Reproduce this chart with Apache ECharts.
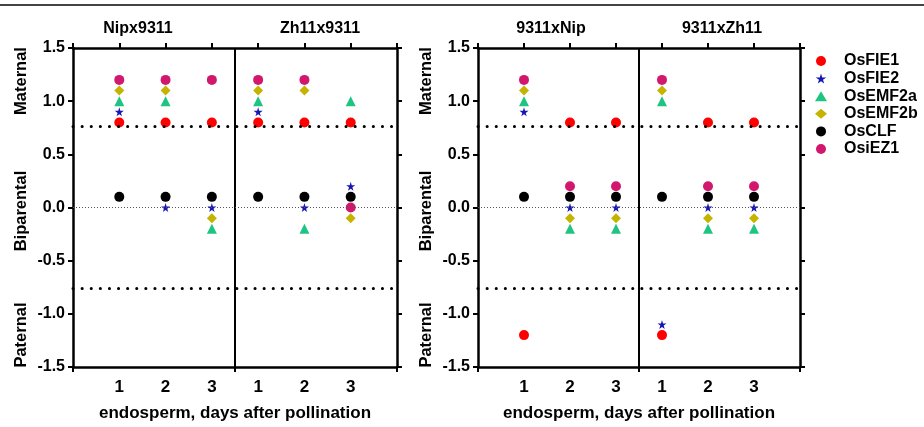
<!DOCTYPE html>
<html>
<head>
<meta charset="utf-8">
<script src="https://cdn.jsdelivr.net/npm/echarts@6/dist/echarts.min.js"></script>
<style>
html,body{margin:0;padding:0;background:#fff;}
#chart{width:924px;height:427px;}
</style>
</head>
<body>
<div id="chart"></div>
<script>
// crosses, in panel order
const crosses = ['Nipx9311', 'Zh11x9311', '9311xNip', '9311xZh11'];
const days = [1, 2, 3];
const yTicks = [-1.5, -1.0, -0.5, 0.0, 0.5, 1.0, 1.5];
const genes = ['OsFIE1', 'OsFIE2', 'OsEMF2a', 'OsEMF2b', 'OsCLF', 'OsiEZ1'];
// values per cross (Nipx9311, Zh11x9311, 9311xNip, 9311xZh11), each by day 1..3
const OsFIE1  = [[0.8, 0.8, 0.8], [0.8, 0.8, 0.8], [-1.2, 0.8, 0.8], [-1.2, 0.8, 0.8]];
const OsFIE2  = [[0.9, 0.0, 0.0], [0.9, 0.0, 0.2], [0.9, 0.0, 0.0], [-1.1, 0.0, 0.0]];
const OsEMF2a = [[1.0, 1.0, -0.2], [1.0, -0.2, 1.0], [1.0, -0.2, -0.2], [1.0, -0.2, -0.2]];
const OsEMF2b = [[1.1, 1.1, -0.1], [1.1, 1.1, -0.1], [1.1, -0.1, -0.1], [1.1, -0.1, -0.1]];
const OsCLF   = [[0.1, 0.1, 0.1], [0.1, 0.1, 0.1], [0.1, 0.1, 0.1], [0.1, 0.1, 0.1]];
const OsiEZ1  = [[1.2, 1.2, 1.2], [1.2, 1.2, 0.0], [1.2, 0.2, 0.2], [1.2, 0.2, 0.2]];
const thresholds = [0.76, -0.76];

const geneValues = [OsFIE1, OsFIE2, OsEMF2a, OsEMF2b, OsCLF, OsiEZ1];
const colors = ['#ff0000', '#1616b4', '#1ec482', '#c4b400', '#000000', '#d2186e'];
const star = 'path://M50,0 L61,35 L98,35 L68,57 L79,91 L50,70 L21,91 L32,57 L2,35 L39,35 Z';
const symbols = ['circle', star, 'triangle', 'diamond', 'circle', 'circle'];
const sizes = [10, 9, 10, 10, 10, 10];

const FONT = '"Liberation Sans", Arial, sans-serif';
const chart = echarts.init(document.getElementById('chart'));

const grids = [
  {left: 73, top: 48, width: 324, height: 325},
  {left: 478, top: 48, width: 322, height: 325}
];

const xAxes = [], yAxes = [];
grids.forEach((g, gi) => {
  xAxes.push({
    type: 'value', gridIndex: gi, position: 'bottom', min: 0, max: 7,
    name: 'endosperm, days after pollination', nameLocation: 'middle', nameGap: 38,
    nameTextStyle: {fontFamily: FONT, fontWeight: 'bold', fontSize: 17, color: '#000'},
    axisLine: {onZero: false, lineStyle: {color: '#000', width: 2.5}},
    axisTick: {show: true, customValues: [0, 3.5, 7], length: 5, lineStyle: {color: '#000', width: 2}},
    axisLabel: {customValues: [1, 2, 3, 4, 5, 6], margin: 12,
      formatter: v => String(days[(Math.round(v) - 1) % 3]),
      fontFamily: FONT, fontWeight: 'bold', fontSize: 17, color: '#000'},
    splitLine: {show: false}
  });
  xAxes.push({
    type: 'value', gridIndex: gi, position: 'top', min: 0, max: 7, interval: 1,
    axisLine: {onZero: false, lineStyle: {color: '#000', width: 2.5}},
    axisTick: {show: true, length: 5, lineStyle: {color: '#000', width: 2}},
    axisLabel: {show: false}, splitLine: {show: false}
  });
  yAxes.push({
    type: 'value', gridIndex: gi, position: 'left', min: -1.5, max: 1.5, interval: 0.5,
    axisLine: {show: true, onZero: false, lineStyle: {color: '#000', width: 2.5}},
    axisTick: {show: true, length: 5, lineStyle: {color: '#000', width: 2}},
    axisLabel: {formatter: v => v.toFixed(1), margin: 8,
      fontFamily: FONT, fontWeight: 'bold', fontSize: 16, color: '#000'},
    splitLine: {show: false}
  });
  yAxes.push({
    type: 'value', gridIndex: gi, position: 'right', min: -1.5, max: 1.5, interval: 0.5,
    axisLine: {show: true, onZero: false, lineStyle: {color: '#000', width: 2.5}},
    axisTick: {show: true, length: 5, lineStyle: {color: '#000', width: 2}},
    axisLabel: {show: false}, splitLine: {show: false}
  });
});

const series = [];
grids.forEach((g, gi) => {
  genes.forEach((name, k) => {
    const data = [];
    for (let p = 0; p < 2; p++) {
      const cross = gi * 2 + p;
      days.forEach((d, di) => {
        data.push([p * 3 + d, geneValues[k][cross][di]]);
      });
    }
    const s = {
      name, type: 'scatter', xAxisIndex: gi * 2, yAxisIndex: gi * 2,
      symbol: symbols[k], symbolSize: sizes[k],
      itemStyle: {color: colors[k], opacity: 1},
      data, z: 3
    };
    if (k === 0) {
      s.markLine = {
        silent: true, symbol: 'none', animation: false,
        label: {show: false},
        data: [
          {xAxis: 3.5, lineStyle: {color: '#000', width: 2, type: 'solid'}},
          {yAxis: thresholds[0], lineStyle: {color: '#000', width: 3, type: [0.1, 9], cap: 'round'}},
          {yAxis: thresholds[1], lineStyle: {color: '#000', width: 3, type: [0.1, 9], cap: 'round'}},
          {yAxis: 0, lineStyle: {color: '#555', width: 1, type: [1, 2]}}
        ]
      };
    }
    series.push(s);
  });
});

const txt = (text, x, y, size, rot) => ({
  type: 'text', x, y, rotation: rot || 0,
  style: {text, fontFamily: FONT, fontWeight: 'bold', fontSize: size, fill: '#000',
    textAlign: 'center', textVerticalAlign: 'middle'}
});

chart.setOption({
  animation: false,
  grid: grids,
  xAxis: xAxes,
  yAxis: yAxes,
  legend: {
    orient: 'vertical', left: 810, top: 48, itemWidth: 12, itemHeight: 10, itemGap: 1.6,
    data: genes,
    textStyle: {fontFamily: FONT, fontWeight: 'bold', fontSize: 16, color: '#000', lineHeight: 16,
      padding: [0, 0, 0, 12]}
  },
  graphic: [
    {type: 'line', shape: {x1: 0, y1: 5, x2: 924, y2: 5}, style: {stroke: '#444', lineWidth: 2}},
    txt(crosses[0], 138, 29, 16),
    txt(crosses[1], 320, 29, 16),
    txt(crosses[2], 551, 29, 16),
    txt(crosses[3], 722, 29, 16),
    txt('Maternal', 21, 81, 16.5, Math.PI / 2),
    txt('Biparental', 21, 211, 16.5, Math.PI / 2),
    txt('Paternal', 21, 335, 16.5, Math.PI / 2),
    txt('Maternal', 426, 81, 16.5, Math.PI / 2),
    txt('Biparental', 426, 211, 16.5, Math.PI / 2),
    txt('Paternal', 426, 335, 16.5, Math.PI / 2)
  ],
  series
});
</script>
</body>
</html>
